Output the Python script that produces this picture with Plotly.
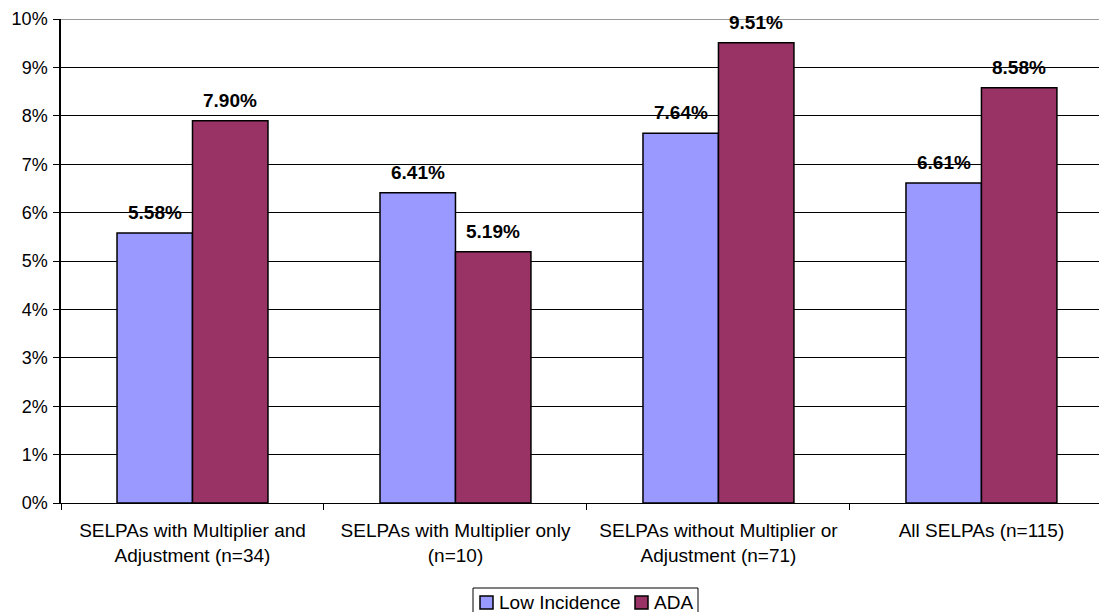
import plotly.graph_objects as go

categories = [
    "SELPAs with Multiplier and<br>Adjustment (n=34)",
    "SELPAs with Multiplier only<br>(n=10)",
    "SELPAs without Multiplier or<br>Adjustment (n=71)",
    "All SELPAs (n=115)",
]
low_incidence = [5.58, 6.41, 7.64, 6.61]
ada = [7.90, 5.19, 9.51, 8.58]
series_names = ["Low Incidence", "ADA"]
series_colors = ["#9999FF", "#993366"]
y_ticks = list(range(0, 11))

FONT = "Arial, Liberation Sans, sans-serif"
BARGAP = 0.426
bar_w = (1 - BARGAP) / 2

W, H = 1099, 612
ML, MR, MT, MB = 61, 0, 19, 109
PW, PH = W - ML - MR, H - MT - MB


def px_x(p):
    return (p - ML) / PW


def px_y(p):
    return (H - MB - p) / PH


fig = go.Figure()
for name, vals, col in zip(series_names, [low_incidence, ada], series_colors):
    fig.add_trace(go.Bar(
        x=categories, y=vals, name=name,
        marker=dict(color=col, line=dict(color="black", width=1.5)),
    ))

# data labels above bars
for k, vals in enumerate([low_incidence, ada]):
    offset = (k - 0.5) * bar_w
    for i, v in enumerate(vals):
        fig.add_annotation(
            x=i + offset, y=v, xref="x", yref="y",
            text=f"<b>{v:.2f}%</b>", showarrow=False,
            yanchor="bottom", yshift=8,
            font=dict(family=FONT, size=19, color="black"),
        )

# gray top border of plot area
fig.add_shape(type="line", xref="paper", yref="y", x0=0, x1=1, y0=10, y1=10,
              line=dict(color="#999999", width=2))

# legend (drawn manually, box cut by bottom edge like the reference)
fig.add_shape(type="rect", xref="paper", yref="paper",
              x0=px_x(473), x1=px_x(698), y0=px_y(618), y1=px_y(588),
              line=dict(color="black", width=1), fillcolor="white", layer="above")
legend_marker_x = [480, 635]
legend_text_x = [497, 652]
for name, col, mx, tx in zip(series_names, series_colors, legend_marker_x, legend_text_x):
    fig.add_shape(type="rect", xref="paper", yref="paper",
                  x0=px_x(mx), x1=px_x(mx + 13), y0=px_y(609), y1=px_y(596),
                  line=dict(color="black", width=1.5), fillcolor=col, layer="above")
    fig.add_annotation(x=px_x(tx), y=px_y(602), xref="paper", yref="paper",
                       text=name, showarrow=False, xanchor="left", yanchor="middle",
                       font=dict(family=FONT, size=19, color="black"))

fig.update_layout(
    width=W, height=H,
    margin=dict(l=ML, r=MR, t=MT, b=MB, autoexpand=False),
    paper_bgcolor="white", plot_bgcolor="white",
    barmode="group", bargap=BARGAP, bargroupgap=0,
    font=dict(family=FONT, size=18, color="black"),
    showlegend=False,
)
fig.update_xaxes(
    type="category", range=[-0.5, 3.447],
    showline=True, linecolor="black", linewidth=1,
    ticks="outside", ticklen=6, tickcolor="black", tickson="boundaries",
    tickfont=dict(family=FONT, size=19, color="black"),
    showgrid=False, ticklabelstandoff=10,
)
fig.update_yaxes(
    range=[0, 10], tickvals=y_ticks, ticktext=[f"{t}%" for t in y_ticks],
    showline=True, linecolor="black", linewidth=1.5,
    ticks="outside", ticklen=6, tickcolor="black",
    showgrid=True, gridcolor="black", gridwidth=1,
    tickfont=dict(family=FONT, size=18, color="black"),
    zeroline=False, ticklabelstandoff=2,
)

fig.write_html("out.html")
